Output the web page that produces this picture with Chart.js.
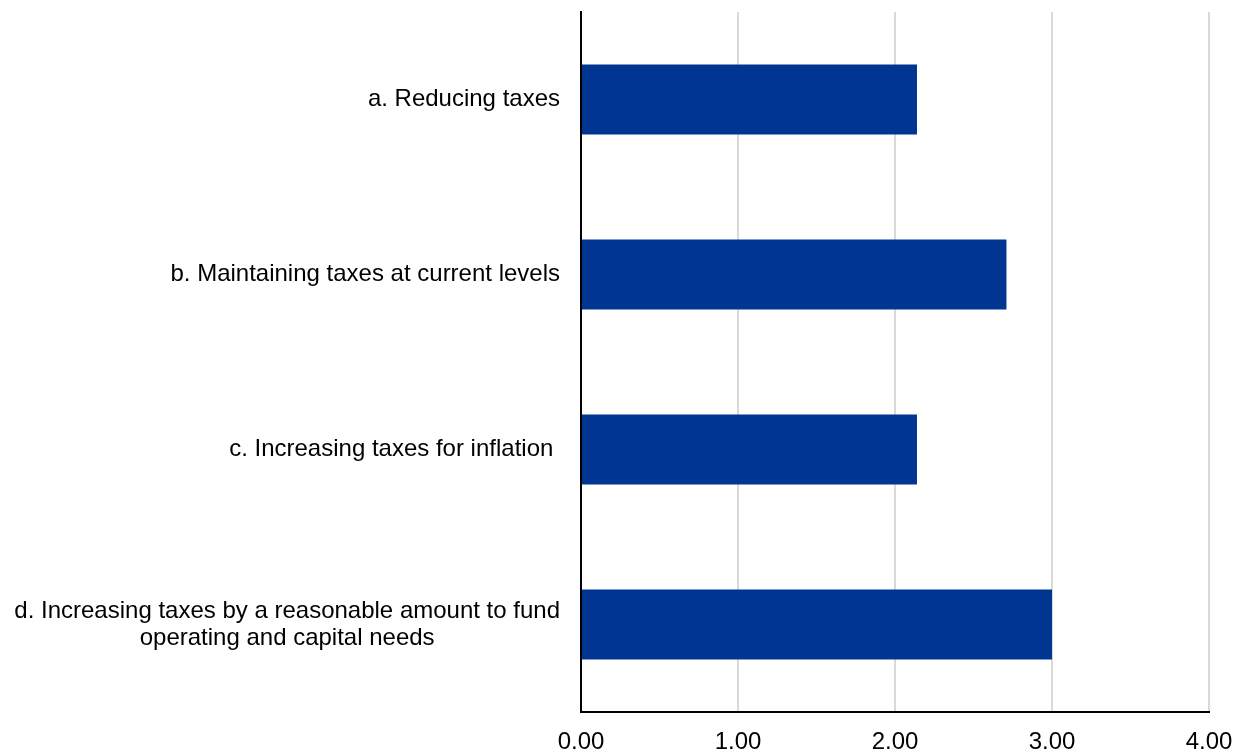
<!DOCTYPE html>
<html>
<head>
<meta charset="utf-8">
<script src="https://cdn.jsdelivr.net/npm/chart.js@4.4.1/dist/chart.umd.min.js"></script>
<style>
  html, body { margin: 0; padding: 0; background: #fff; }
  #wrap { width: 1236px; height: 754px; }
</style>
</head>
<body>
<div id="wrap"><canvas id="taxChart" width="1236" height="754"></canvas></div>
<script>
const categories = [
  ['a. Reducing taxes'],
  ['b. Maintaining taxes at current levels'],
  ['c. Increasing taxes for inflation '],
  ['d. Increasing taxes by a reasonable amount to fund', 'operating and capital needs']
];
const averageScores = [2.14, 2.71, 2.14, 3.00];
const xTicks = [0, 1, 2, 3, 4];

const fontFamily = '"Liberation Sans", Arial, sans-serif';
const labelFont = '24px ' + fontFamily;

// category labels: block right-aligned against the axis, lines centred inside the block
const categoryLabels = {
  id: 'categoryLabels',
  afterDraw(chart) {
    const ctx = chart.ctx;
    const yScale = chart.scales.y;
    const rightEdge = chart.chartArea.left - 21;
    const lineHeight = 27;
    ctx.save();
    ctx.font = labelFont;
    ctx.fillStyle = '#000';
    ctx.textAlign = 'center';
    ctx.textBaseline = 'middle';
    categories.forEach((lines, i) => {
      const widest = Math.max(...lines.map(l => ctx.measureText(l.trimEnd()).width));
      const trailing = ctx.measureText(lines[0]).width - ctx.measureText(lines[0].trimEnd()).width;
      const cx = rightEdge - trailing - widest / 2;
      const cy = yScale.getPixelForTick(i);
      const startY = cy - (lines.length - 1) * lineHeight / 2;
      lines.forEach((line, j) => {
        ctx.fillText(line.trimEnd(), cx, startY + j * lineHeight);
      });
    });
    ctx.restore();
  }
};

new Chart(document.getElementById('taxChart').getContext('2d'), {
  type: 'bar',
  data: {
    labels: categories.map(c => c.join(' ')),
    datasets: [{
      data: averageScores,
      backgroundColor: '#003591',
      borderWidth: 0,
      categoryPercentage: 0.4,
      barPercentage: 1.0
    }]
  },
  options: {
    indexAxis: 'y',
    responsive: false,
    animation: false,
    layout: { padding: { top: 12, right: 27, left: 0, bottom: 0 } },
    plugins: {
      legend: { display: false },
      tooltip: { enabled: false }
    },
    scales: {
      x: {
        min: 0,
        max: 4,
        afterBuildTicks(scale) {
          scale.ticks = xTicks.map(v => ({ value: v }));
        },
        afterFit(scale) {
          scale.height = 42;
          scale.paddingRight = 0;
          scale.paddingLeft = 0;
        },
        grid: {
          color: ctx => ctx.tick && ctx.tick.value === 0 ? 'rgba(0,0,0,0)' : '#d9d9d9',
          lineWidth: 2,
          drawTicks: false
        },
        border: { color: '#000', width: 2 },
        ticks: {
          padding: 16,
          color: '#000',
          font: { family: fontFamily, size: 24 },
          callback: v => Number(v).toFixed(2),
          maxRotation: 0
        }
      },
      y: {
        afterFit(scale) { scale.width = 581; },
        grid: { display: false, drawTicks: false },
        border: { color: '#000', width: 2 },
        ticks: { display: false }
      }
    }
  },
  plugins: [categoryLabels]
});
</script>
</body>
</html>
